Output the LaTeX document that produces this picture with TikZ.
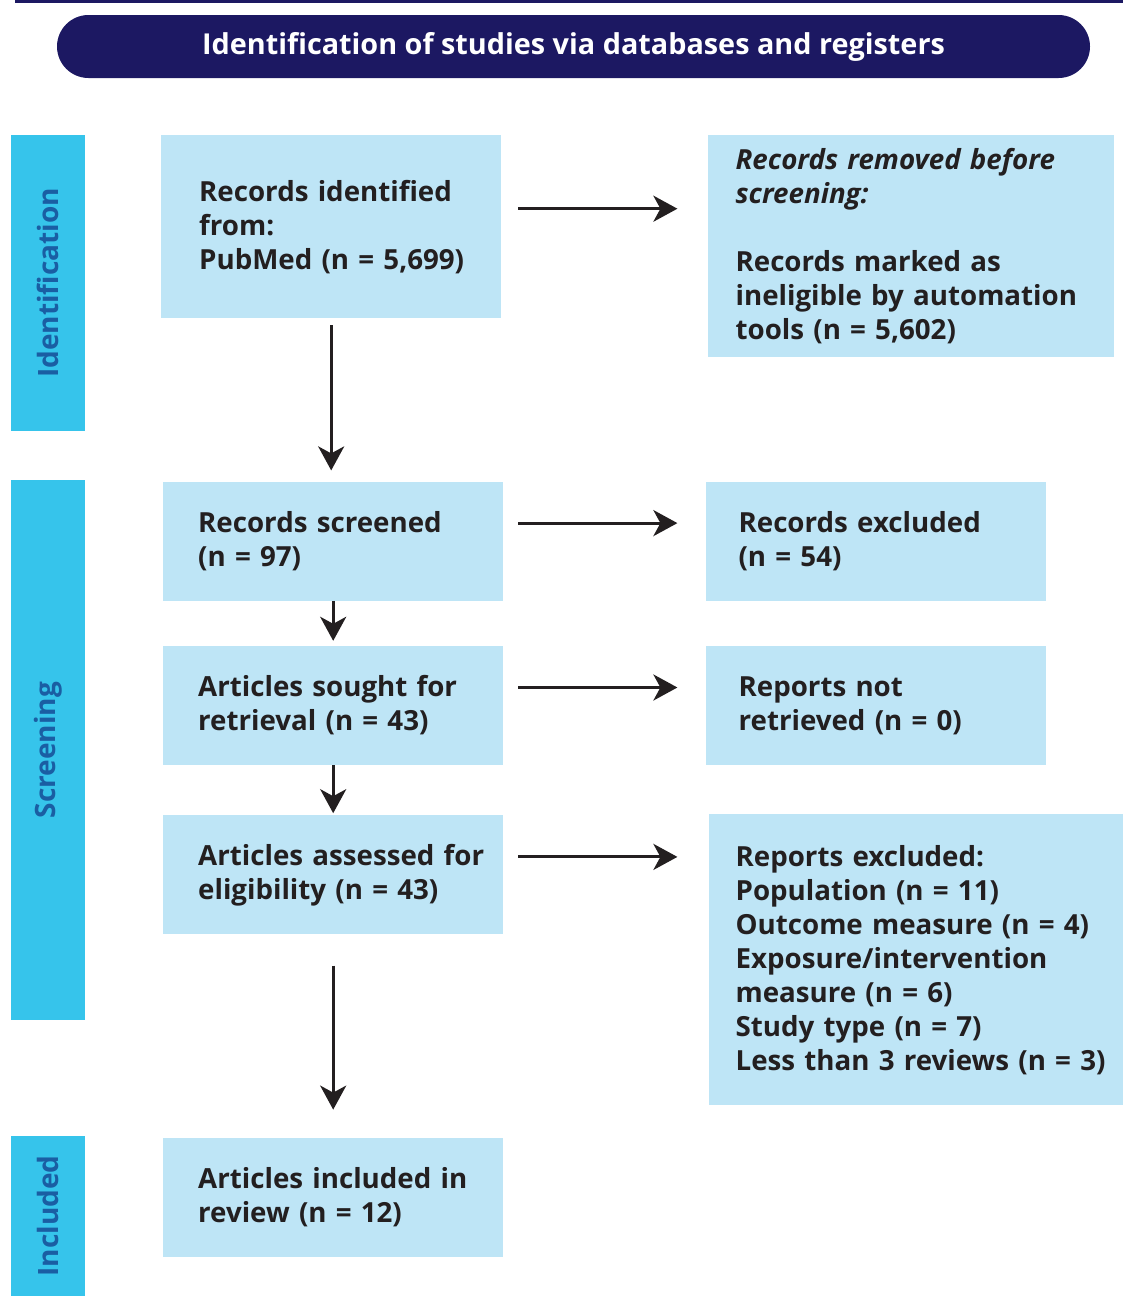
\documentclass[tikz,border=0pt]{standalone}
\usepackage{fontspec}
\setmainfont{Open Sans}
\usetikzlibrary{arrows.meta, positioning, shapes.misc}
\definecolor{navy}{HTML}{1C1862}
\definecolor{barcyan}{HTML}{36C4EB}
\definecolor{boxblue}{HTML}{BEE5F6}
\definecolor{labelblue}{HTML}{1A5EA3}
\definecolor{inkgray}{HTML}{231F20}
\tikzstyle{box} = [rectangle, fill=boxblue, text=inkgray, inner xsep=0pt, inner ysep=0pt, align=left, font=\fontsize{27.7}{34}\selectfont\bfseries]
\tikzstyle{arrow} = [line width=3pt, draw=inkgray, -{Stealth[length=24pt, width=26pt, inset=7pt]}]

\begin{document}
\begin{tikzpicture}[
    x=1pt, y=-1pt,
    textpad/.style={execute at begin node={\leftskip=#1}},
    leftbox/.style={box, text width=340pt, minimum height=119pt, textpad=35pt},
    sidebar/.style={rectangle, fill=barcyan, text=labelblue, rotate=90, minimum height=74pt, inner sep=0pt, font=\fontsize{28}{34}\selectfont\bfseries},
    node distance=45pt and 202pt
  ]
    \useasboundingbox (0,0) rectangle (1123,1296);
    \draw[navy, line width=3pt] (15,1.5) -- (1123,1.5);

    % Title
    \node[rounded rectangle, fill=navy, text=white, minimum width=1033pt, minimum height=63pt, inner sep=0pt, font=\fontsize{28.8}{34}\selectfont\bfseries] (title) at (573.5,46.5) {Identification of studies via databases and registers};

    % Phase bars
    \node[sidebar, minimum width=296pt] (identbar) at (48,283) {Identification};
    \node[sidebar, minimum width=540pt] (screenbar) at (48,750) {Screening};
    \node[sidebar, minimum width=160pt] (inclbar) at (48,1216) {Included};

    % Left column
    \node[leftbox, minimum height=183pt, anchor=north west, textpad=38pt] (ident) at (161,135) {Records identified\\from:\\PubMed (n = 5,699)};
    \node[leftbox, below=163pt of ident, xshift=2pt] (screened) {Records screened\\(n = 97)};
    \node[leftbox, below=of screened] (sought) {Articles sought for\\retrieval (n = 43)};
    \node[leftbox, below=50pt of sought] (assessed) {Articles assessed for\\eligibility (n = 43)};
    \node[leftbox, below=203pt of assessed] (included) {Articles included in\\review (n = 12)};

    % Right column
    \node[box, text width=406pt, minimum height=222pt, textpad=28pt, anchor=north west] (removed) at ([xshift=206pt]ident.north east) {{\itshape Records removed before}\\{\itshape screening:}\\[34pt]Records marked as\\ineligible by automation\\tools (n = 5,602)};
    \node[leftbox, textpad=33pt, right=of screened] (excluded) {Records excluded\\(n = 54)};
    \node[leftbox, textpad=33pt, right=of sought] (notretr) {Reports not\\retrieved (n = 0)};
    \node[box, text width=415pt, minimum height=291pt, textpad=27pt, anchor=north west] (repexcl) at ([xshift=205pt, yshift=1pt]assessed.north east) {Reports excluded:\\Population (n = 11)\\Outcome measure (n = 4)\\Exposure/intervention\\measure (n = 6)\\Study type (n = 7)\\Less than 3 reviews (n = 3)\\[-6pt]};

    % Down arrows
    \draw[arrow, shorten <=7pt, shorten >=11pt] (ident.south) -- (ident.south |- screened.north);
    \draw[arrow, shorten >=5pt] (screened) -- (sought);
    \draw[arrow, shorten >=2pt] (sought) -- (assessed);
    \draw[arrow, shorten <=31pt, shorten >=28pt] (assessed) -- (included);

    % Side arrows
    \draw[arrow, shorten <=17pt, shorten >=30pt] ([yshift=18pt]ident.east) -- ([yshift=18pt]ident.east -| removed.west);
    \draw[arrow, shorten <=15pt, shorten >=28pt] ([yshift=18pt]screened.east) -- ([yshift=18pt]screened.east -| excluded.west);
    \draw[arrow, shorten <=15pt, shorten >=28pt] ([yshift=18pt]sought.east) -- ([yshift=18pt]sought.east -| notretr.west);
    \draw[arrow, shorten <=15pt, shorten >=31pt] ([yshift=18pt]assessed.east) -- ([yshift=18pt]assessed.east -| repexcl.west);
  \end{tikzpicture}
\end{document}
